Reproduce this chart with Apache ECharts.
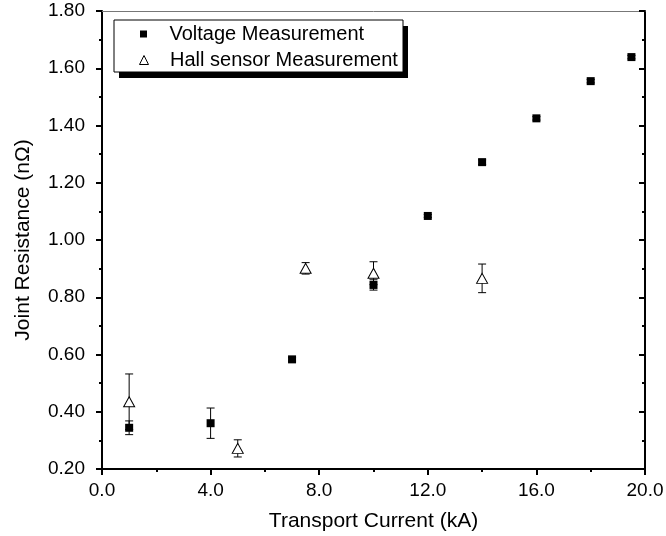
<!DOCTYPE html>
<html>
<head>
<meta charset="utf-8">
<script src="https://cdn.jsdelivr.net/npm/echarts@6/dist/echarts.min.js"></script>
<style>html,body{margin:0;padding:0;background:#fff;}#c{width:666px;height:536px;}</style>
</head>
<body>
<div id="c"></div>
<script>
const xTicks = [0, 4, 8, 12, 16, 20];
const yTicks = [0.2, 0.4, 0.6, 0.8, 1.0, 1.2, 1.4, 1.6, 1.8];
const voltageX = [1, 4, 7, 10, 12, 14, 16, 18, 19.5];
const voltageY = [0.344, 0.360, 0.583, 0.843, 1.084, 1.272, 1.425, 1.555, 1.639];
const voltageErr = [0.024, 0.053, 0.006, 0.018, 0.005, 0.008, 0.006, 0.006, 0.006];
const hallX = [1, 5, 7.5, 10, 14];
const hallY = [0.435, 0.272, 0.901, 0.884, 0.866];
const hallErr = [0.097, 0.030, 0.020, 0.040, 0.050];
const seriesNames = ['Voltage Measurement', 'Hall sensor Measurement'];
const xName = 'Transport Current (kA)';
const yName = 'Joint Resistance (nΩ)';

const FONT = 'Liberation Sans';
const chart = echarts.init(document.getElementById('c'), null, {renderer: 'canvas'});

const vPts = voltageX.map((x, i) => [x, voltageY[i]]);
const hPts = hallX.map((x, i) => [x, hallY[i]]);
const vErr = voltageX.map((x, i) => [x, voltageY[i] - voltageErr[i], voltageY[i] + voltageErr[i]]);
const hErr = hallX.map((x, i) => [x, hallY[i] - hallErr[i], hallY[i] + hallErr[i]]);

function errRender(params, api) {
  const x = api.value(0);
  const lo = api.coord([x, api.value(1)]);
  const hi = api.coord([x, api.value(2)]);
  const cw = 4;
  const st = {stroke: '#000', lineWidth: 1, fill: null};
  return {
    type: 'group',
    children: [
      {type: 'line', shape: {x1: lo[0], y1: lo[1], x2: hi[0], y2: hi[1]}, style: st},
      {type: 'line', shape: {x1: lo[0] - cw, y1: lo[1], x2: lo[0] + cw, y2: lo[1]}, style: st},
      {type: 'line', shape: {x1: hi[0] - cw, y1: hi[1], x2: hi[0] + cw, y2: hi[1]}, style: st}
    ]
  };
}

const xMin = xTicks[0], xMax = xTicks[xTicks.length - 1], xInt = xTicks[1] - xTicks[0];
const yMin = yTicks[0], yMax = yTicks[yTicks.length - 1], yInt = +(yTicks[1] - yTicks[0]).toFixed(2);

const option = {
  animation: false,
  backgroundColor: '#fff',
  grid: {left: 102, right: 21, top: 11, bottom: 67, outerBoundsMode: 'none', containLabel: false},
  graphic: [
    {type: 'rect', shape: {x: 119, y: 26, width: 289, height: 52}, style: {fill: '#000'}, z: 10},
    {type: 'rect', shape: {x: 114, y: 20, width: 289, height: 52}, style: {fill: '#fff', stroke: '#000', lineWidth: 1}, z: 11}
  ],
  legend: [
    {
      data: [{name: seriesNames[0], icon: 'path://M0,0L1,0L1,1L0,1Z'}],
      left: 140, top: 24, padding: 0,
      itemWidth: 42, itemHeight: 7,
      itemStyle: {borderWidth: 0},
      textStyle: {fontFamily: FONT, fontSize: 20, color: '#000'},
      z: 20, selectedMode: false
    },
    {
      data: [{name: seriesNames[1], icon: 'path://M0.5,0L1,1L0,1Z'}],
      left: 139, top: 50, padding: 0,
      itemWidth: 42, itemHeight: 9,
      itemStyle: {borderWidth: 1, borderColor: '#000', color: '#fff'},
      textStyle: {fontFamily: FONT, fontSize: 20, color: '#000'},
      z: 20, selectedMode: false
    }
  ],
  xAxis: [
    {
      type: 'value', position: 'bottom', min: xMin, max: xMax, interval: xInt,
      name: xName, nameLocation: 'middle', nameGap: 42,
      nameTextStyle: {fontFamily: FONT, fontSize: 21, color: '#000'},
      axisLine: {show: true, onZero: false, lineStyle: {color: '#000', width: 2}},
      axisTick: {show: true, inside: false, length: 6, lineStyle: {color: '#000', width: 2}},
      minorTick: {show: true, splitNumber: 2, length: 3, lineStyle: {color: '#000', width: 2}},
      axisLabel: {fontFamily: FONT, fontSize: 19, color: '#000', margin: 12, formatter: v => v.toFixed(1)},
      splitLine: {show: false}
    },
    {
      type: 'value', position: 'top', min: xMin, max: xMax, interval: xInt,
      axisLine: {show: true, onZero: false, lineStyle: {color: '#777', width: 1}},
      axisTick: {show: false}, axisLabel: {show: false}, splitLine: {show: false}
    }
  ],
  yAxis: [
    {
      type: 'value', position: 'left', min: yMin, max: yMax, interval: yInt,
      name: yName, nameLocation: 'middle', nameGap: 68, nameRotate: 90,
      nameTextStyle: {fontFamily: FONT, fontSize: 21, color: '#000'},
      axisLine: {show: true, onZero: false, lineStyle: {color: '#000', width: 2}},
      axisTick: {show: true, inside: false, length: 6, lineStyle: {color: '#000', width: 2}},
      minorTick: {show: true, splitNumber: 2, length: 3, lineStyle: {color: '#000', width: 2}},
      axisLabel: {fontFamily: FONT, fontSize: 19, color: '#000', margin: 17, formatter: v => v.toFixed(2)},
      splitLine: {show: false}
    },
    {
      type: 'value', position: 'right', min: yMin, max: yMax, interval: yInt,
      axisLine: {show: true, onZero: false, lineStyle: {color: '#000', width: 2}},
      axisTick: {show: true, inside: true, length: 6, lineStyle: {color: '#000', width: 2}},
      minorTick: {show: true, splitNumber: 2, length: 3, lineStyle: {color: '#000', width: 2}},
      axisLabel: {show: false}, splitLine: {show: false}
    }
  ],
  series: [
    {
      type: 'custom', name: 'hallErr', xAxisIndex: 0, yAxisIndex: 0,
      renderItem: errRender, data: hErr, encode: {x: 0, y: [1, 2]}, z: 2, silent: true
    },
    {
      type: 'custom', name: 'voltErr', xAxisIndex: 0, yAxisIndex: 0,
      renderItem: errRender, data: vErr, encode: {x: 0, y: [1, 2]}, z: 2, silent: true
    },
    {
      type: 'scatter', name: seriesNames[1], data: hPts,
      symbol: 'triangle', symbolSize: [11, 10], symbolKeepAspect: true,
      itemStyle: {color: '#fff', borderColor: '#000', borderWidth: 1, opacity: 1},
      z: 3
    },
    {
      type: 'scatter', name: seriesNames[0], data: vPts,
      symbol: 'rect', symbolSize: 8, symbolKeepAspect: true,
      itemStyle: {color: '#000', opacity: 1},
      z: 4
    }
  ]
};
chart.setOption(option);
</script>
</body>
</html>
